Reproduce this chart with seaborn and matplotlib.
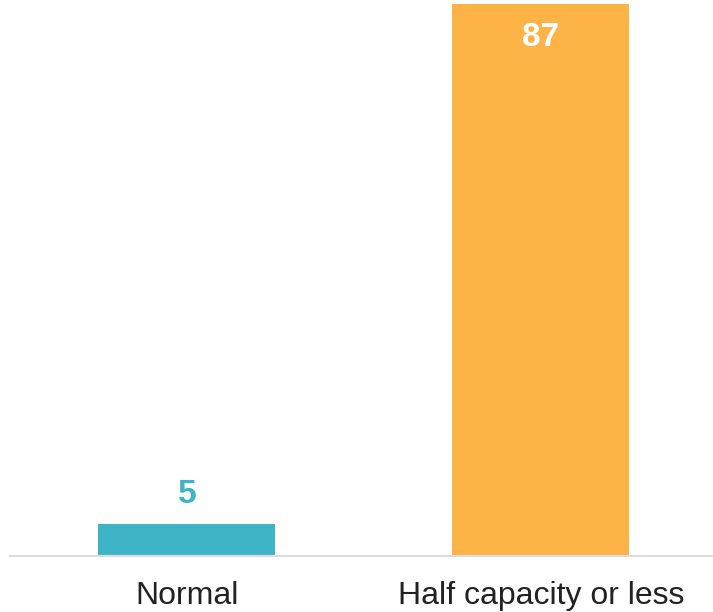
import pandas as pd
import matplotlib.pyplot as plt
import seaborn as sns

categories = ['Normal', 'Half capacity or less']
values = [5, 87]
colors = ['#40b4c7', '#feb346']
label_colors = ['#40b4c7', '#ffffff']

sns.set_style('white')
plt.rcParams['font.family'] = ['Liberation Sans', 'DejaVu Sans']

df = pd.DataFrame({'status': categories, 'count': values})

fig = plt.figure(figsize=(7.13, 6.12), dpi=100)
ax = fig.add_axes([10 / 713, 56 / 612, 703 / 713, 552 / 612])
sns.barplot(data=df, x='status', y='count', hue='status', palette=colors,
            width=0.5, legend=False, ax=ax, saturation=1, linewidth=0)

ax.set_ylim(0, 87)
ax.set_xlim(-0.5, 1.486)
ax.set_xlabel('')
ax.set_ylabel('')
ax.set_yticks([])
ax.tick_params(axis='x', length=0, pad=18, labelsize=23, labelcolor='#222222')
for side in ['top', 'left', 'right']:
    ax.spines[side].set_visible(False)
ax.spines['bottom'].set_color('#dddddd')
ax.spines['bottom'].set_linewidth(1.5)

# value labels: small bar gets label above, tall bar gets label inside
for i, v in enumerate(values):
    if v < 20:
        ax.annotate(str(v), (i, v), xytext=(0, 10), textcoords='offset points',
                    ha='center', va='bottom', fontsize=24, fontweight='bold',
                    color=label_colors[i])
    else:
        ax.annotate(str(v), (i, v), xytext=(0, -13), textcoords='offset points',
                    ha='center', va='top', fontsize=24, fontweight='bold',
                    color=label_colors[i])

fig.savefig('out.png', dpi=100)
